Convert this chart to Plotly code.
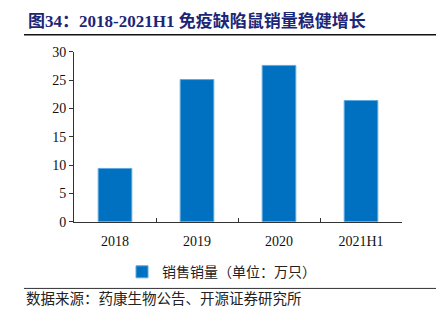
import plotly.graph_objects as go

categories = ["2018", "2019", "2020", "2021H1"]
sales = [9.4, 25.1, 27.6, 21.4]
series_name = "销售销量（单位：万只）"
title_text = "图34：2018-2021H1 免疫缺陷鼠销量稳健增长"
source_text = "数据来源：药康生物公告、开源证券研究所"
y_ticks = [0, 5, 10, 15, 20, 25, 30]

W, H = 442, 326
serif_cjk = "Liberation Serif, Noto Sans CJK SC, sans-serif"

fig = go.Figure()
fig.add_trace(go.Bar(
    x=categories, y=sales, name=series_name,
    marker=dict(color="#0070C0", line=dict(color="#5FA8E0", width=1)),
    width=0.41,
))

fig.update_layout(
    width=W, height=H,
    margin=dict(l=0, r=0, t=0, b=0),
    paper_bgcolor="white", plot_bgcolor="white",
    showlegend=True,
    legend=dict(
        orientation="h", x=122 / W, xanchor="left", y=1 - 278 / H, yanchor="middle",
        font=dict(family=serif_cjk, size=14, color="#222"),
        itemwidth=30, bgcolor="rgba(0,0,0,0)",
    ),
    xaxis=dict(
        domain=[74 / W, 402 / W],
        range=[-0.5, 3.5],
        showline=True, linecolor="#333", linewidth=1,
        ticks="inside", tickson="boundaries", ticklen=4, tickcolor="#333",
        tickfont=dict(family="Liberation Serif", size=14, color="#111"),
        ticklabelstandoff=7,
        showgrid=False,
    ),
    yaxis=dict(
        domain=[1 - 225 / H, 1 - 47 / H],
        range=[0, 30],
        tickvals=y_ticks,
        ticksuffix="\u00a0\u00a0\u00a0",
        showline=True, linecolor="#333", linewidth=1,
        ticks="outside", ticklen=4, tickcolor="#333",
        tickfont=dict(family="Liberation Serif", size=14, color="#111"),
        showgrid=False, zeroline=False,
    ),
    shapes=[
        dict(type="line", xref="paper", yref="paper", x0=24 / W, x1=436 / W,
             y0=1 - 29 / H, y1=1 - 29 / H, line=dict(color="#111", width=1.5)),
        dict(type="line", xref="paper", yref="paper", x0=24 / W, x1=436 / W,
             y0=1 - 295 / H, y1=1 - 295 / H, line=dict(color="#333", width=1)),
    ],
    annotations=[
        dict(text="<b>" + title_text + "</b>", xref="paper", yref="paper",
             x=26 / W, y=1 - 15 / H, xanchor="left", yanchor="middle", showarrow=False,
             font=dict(family=serif_cjk, size=17, color="#1C2677")),
        dict(text=source_text, xref="paper", yref="paper",
             x=24 / W, y=1 - 306 / H, xanchor="left", yanchor="middle", showarrow=False,
             font=dict(family=serif_cjk, size=14.5, color="#222")),
    ],
)

fig.write_html("out.html")
